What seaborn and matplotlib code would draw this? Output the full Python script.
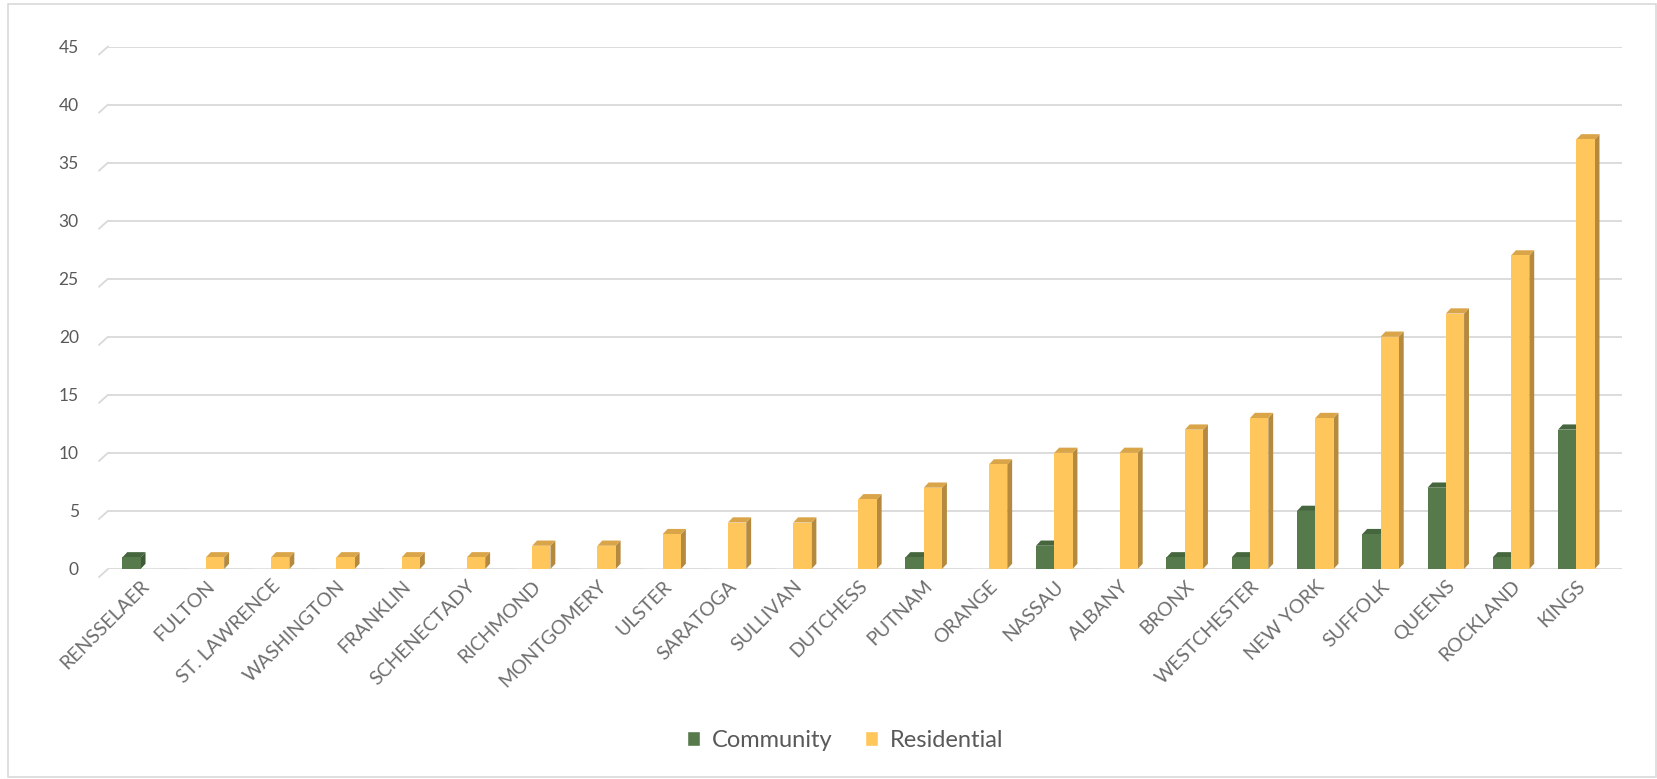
import pandas as pd
import seaborn as sns
import matplotlib.pyplot as plt
from matplotlib.patches import Polygon, Rectangle

# county counts
counties = ['RENSSELAER', 'FULTON', 'ST. LAWRENCE', 'WASHINGTON', 'FRANKLIN',
            'SCHENECTADY', 'RICHMOND', 'MONTGOMERY', 'ULSTER', 'SARATOGA',
            'SULLIVAN', 'DUTCHESS', 'PUTNAM', 'ORANGE', 'NASSAU', 'ALBANY',
            'BRONX', 'WESTCHESTER', 'NEW YORK', 'SUFFOLK', 'QUEENS',
            'ROCKLAND', 'KINGS']
community = [1, 0, 0, 0, 0, 0, 0, 0, 0, 0, 0, 0, 1, 0, 2, 0, 1, 1, 5, 3, 7, 1, 12]
residential = [0, 1, 1, 1, 1, 1, 2, 2, 3, 4, 4, 6, 7, 9, 10, 10, 12, 13, 13, 20, 22, 27, 37]
yticks = [0, 5, 10, 15, 20, 25, 30, 35, 40, 45]

series = ['Community', 'Residential']
colors = {'Community': '#577A4D', 'Residential': '#FFC65C'}
side_colors = {'Community': '#3F5A37', 'Residential': '#B58A3E'}
top_colors = {'Community': '#46663D', 'Residential': '#D9A548'}

df = pd.DataFrame({
    'county': counties * 2,
    'value': community + residential,
    'type': ['Community'] * len(counties) + ['Residential'] * len(counties),
})

sns.set_style('white')
plt.rcParams['font.family'] = ['Lato', 'DejaVu Sans']

fig = plt.figure(figsize=(16.57, 7.79), dpi=100)
ax = fig.add_axes([108 / 1657, 0.2696, (1622 - 108) / 1657, 0.9403 - 0.2696])

sns.barplot(data=df, x='county', y='value', hue='type', order=counties,
            hue_order=series, palette=colors, width=0.56, gap=0,
            saturation=1, ax=ax, zorder=3, legend=False)

# fake the excel 3d look: side and top faces from each bar
dx, dy = 0.075, 0.45
for container, name in zip(ax.containers, series):
    for p in container.patches:
        h = p.get_height()
        if h <= 0:
            continue
        x0, w = p.get_x(), p.get_width()
        p.set_edgecolor('none')
        side = Polygon([(x0 + w, 0), (x0 + w + dx, dy), (x0 + w + dx, h + dy), (x0 + w, h)],
                       closed=True, facecolor=side_colors[name], edgecolor='none', zorder=2.9)
        top = Polygon([(x0, h), (x0 + w, h), (x0 + w + dx, h + dy), (x0 + dx, h + dy)],
                      closed=True, facecolor=top_colors[name], edgecolor='none', zorder=2.9)
        ax.add_patch(side)
        ax.add_patch(top)

ax.set_ylim(0, 45)
ax.set_xlim(-0.5, 22.7)
ax.set_yticks(yticks)
ax.yaxis.grid(True, color='#D9D9D9', linewidth=1.3, zorder=0)
ax.set_axisbelow(True)
for s in ax.spines.values():
    s.set_visible(False)

# little slanted floor edges at the left of each gridline
for v in yticks:
    ax.plot([0, -0.006], [v, v - 0.7], transform=ax.get_yaxis_transform(),
            color='#D9D9D9', linewidth=1.3, clip_on=False, zorder=0)

ax.set_xlabel('')
ax.set_ylabel('')
ax.tick_params(axis='y', length=0, pad=21, labelsize=12.5, labelcolor='#595959')
ax.tick_params(axis='x', length=0, pad=6, labelsize=14, labelcolor='#6E6E6E')
plt.setp(ax.get_xticklabels(), rotation=45, ha='right', va='top',
         rotation_mode='anchor')

handles = [Rectangle((0, 0), 1, 1, facecolor=colors[s]) for s in series]
fig.legend(handles, series, loc='center', bbox_to_anchor=(0.51, 0.05),
           ncol=2, frameon=False, fontsize=17, labelcolor='#595959',
           handlelength=0.55, handleheight=0.6, handletextpad=0.5,
           columnspacing=1.4)

# chart border like the excel chart area
fig.patches.append(Rectangle((8 / 1657, 0.002), 1 - 9 / 1657, 0.993,
                             transform=fig.transFigure, fill=False,
                             edgecolor='#D9D9D9', linewidth=1.2))

plt.savefig('out.png', dpi=100)
